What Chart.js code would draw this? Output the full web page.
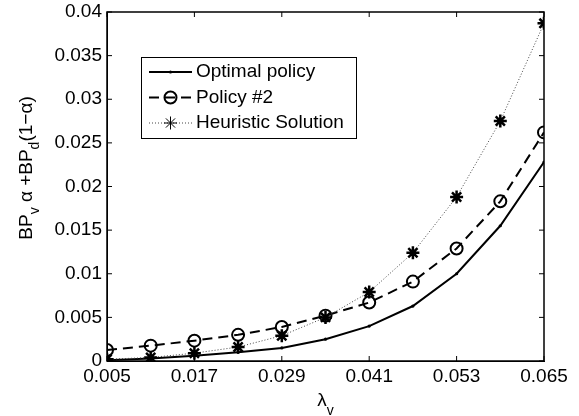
<!DOCTYPE html>
<html>
<head>
<meta charset="utf-8">
<script src="https://cdn.jsdelivr.net/npm/chart.js@4/dist/chart.umd.min.js"></script>
<style>
  html, body { margin: 0; padding: 0; background: #fff; }
  #wrap { width: 579px; height: 416px; }
</style>
</head>
<body>
<div id="wrap"><canvas id="chart"></canvas></div>
<script>
const lambdas = [0.005, 0.011, 0.017, 0.023, 0.029, 0.035, 0.041, 0.047, 0.053, 0.059, 0.065]
const optimal = [0.0001, 0.0003, 0.0006, 0.001, 0.0015, 0.0025, 0.004, 0.0063, 0.0100, 0.0155, 0.0228]
const policy2 = [0.00126, 0.00176, 0.00233, 0.003, 0.0039, 0.0052, 0.0067, 0.0091, 0.0129, 0.0183, 0.0262]
const heuristic = [0.0002, 0.0004, 0.0009, 0.0016, 0.0029, 0.005, 0.0079, 0.0124, 0.0188, 0.0275, 0.0387]
const xTicks = [0.005, 0.017, 0.029, 0.041, 0.053, 0.065]
const yTicks = [0, 0.005, 0.01, 0.015, 0.02, 0.025, 0.03, 0.035, 0.04]
const legendLabels = ["Optimal policy", "Policy #2", "Heuristic Solution"]

const FONT = "Liberation Sans, Arial, Helvetica, sans-serif"
const pts = (ys) => lambdas.map((x, i) => ({ x, y: ys[i] }))
const fmt = (v) => String(parseFloat(v.toFixed(3)))

const series = [
  { label: legendLabels[0], data: pts(optimal), borderColor: '#000', borderWidth: 2,
    pointStyle: 'circle', pointRadius: 1.6, pointBackgroundColor: '#000', pointBorderWidth: 0, order: 3 },
  { label: legendLabels[1], data: pts(policy2), borderColor: '#000', borderWidth: 2, borderDash: [10, 6],
    pointStyle: 'circle', pointRadius: 6, pointBackgroundColor: 'rgba(0,0,0,0)', pointBorderWidth: 2, order: 2 },
  { label: legendLabels[2], data: pts(heuristic), borderColor: '#444', borderWidth: 1, borderDash: [1, 2],
    pointStyle: 'star', pointRadius: 6.5, pointBorderColor: '#000', pointBackgroundColor: '#000', pointBorderWidth: 2.5, order: 1 },
]

// axes box with inward ticks on all four sides
const frame = {
  id: 'frame',
  afterDraw(chart) {
    const { ctx, chartArea: a, scales } = chart
    ctx.save()
    ctx.strokeStyle = '#000'
    ctx.lineWidth = 1.5
    ctx.setLineDash([])
    ctx.strokeRect(a.left, a.top, a.right - a.left, a.bottom - a.top)
    ctx.lineWidth = 1
    ctx.beginPath()
    for (const v of xTicks) {
      const x = scales.x.getPixelForValue(v)
      ctx.moveTo(x, a.bottom); ctx.lineTo(x, a.bottom - 5)
      ctx.moveTo(x, a.top); ctx.lineTo(x, a.top + 5)
    }
    for (const v of yTicks) {
      const y = scales.y.getPixelForValue(v)
      ctx.moveTo(a.left, y); ctx.lineTo(a.left + 5, y)
      ctx.moveTo(a.right, y); ctx.lineTo(a.right - 5, y)
    }
    ctx.stroke()
    ctx.restore()
  }
}

// legend box and axis titles with subscripts
const decor = {
  id: 'decor',
  afterDraw(chart) {
    const { ctx, chartArea: a } = chart
    ctx.save()
    const lx = 141, ly = 57, lw = 215, lh = 81
    ctx.fillStyle = '#fff'
    ctx.fillRect(lx, ly, lw, lh)
    ctx.strokeStyle = '#000'
    ctx.lineWidth = 1
    ctx.strokeRect(lx + 0.5, ly + 0.5, lw, lh)
    ctx.font = '19px ' + FONT
    ctx.textBaseline = 'middle'
    ctx.textAlign = 'left'
    series.forEach((s, i) => {
      const y = ly + 15 + i * 25.5
      ctx.strokeStyle = s.borderColor
      ctx.lineWidth = s.borderWidth
      ctx.setLineDash(s.borderDash || [])
      ctx.beginPath(); ctx.moveTo(149, y); ctx.lineTo(192, y); ctx.stroke()
      ctx.setLineDash([])
      ctx.strokeStyle = s.pointBorderColor || '#000'
      ctx.fillStyle = s.pointBackgroundColor
      Chart.helpers.drawPoint(ctx, { pointStyle: s.pointStyle, radius: s.pointRadius, rotation: 0, borderWidth: s.pointBorderWidth }, 170.5, y)
      ctx.fillStyle = '#000'
      ctx.fillText(s.label, 196, y)
    })

    const parts = [['BP', 0], ['v', 1], [' \u03b1 +BP', 0], ['d', 1], ['(1\u2212\u03b1)', 0]]
    const measure = (p) => { ctx.font = (p[1] ? '14px ' : '19px ') + FONT; return ctx.measureText(p[0]).width }
    const total = parts.reduce((s, p) => s + measure(p), 0)
    ctx.translate(32, 168)
    ctx.rotate(-Math.PI / 2)
    ctx.textBaseline = 'alphabetic'
    let cx = -total / 2
    parts.forEach(p => {
      const w = measure(p)
      ctx.fillText(p[0], cx, p[1] ? 7 : 0)
      cx += w
    })
    ctx.setTransform(1, 0, 0, 1, 0, 0)

    ctx.font = '19px ' + FONT
    const w1 = ctx.measureText('\u03bb').width
    ctx.font = '14px ' + FONT
    const w2 = ctx.measureText('v').width
    const sx = (a.left + a.right) / 2 - (w1 + w2) / 2
    ctx.font = '19px ' + FONT
    ctx.fillText('\u03bb', sx, 406)
    ctx.font = '14px ' + FONT
    ctx.fillText('v', sx + w1, 415)
    ctx.restore()
  }
}

new Chart(document.getElementById('chart'), {
  type: 'line',
  data: { datasets: series.map(s => ({ ...s, fill: false, tension: 0 })) },
  options: {
    responsive: true,
    maintainAspectRatio: false,
    animation: false,
    layout: { padding: { left: 0, right: 35, top: 12, bottom: 0 } },
    plugins: { legend: { display: false }, tooltip: { enabled: false } },
    scales: {
      x: {
        type: 'linear',
        min: 0.005,
        max: 0.065,
        afterBuildTicks: (s) => { s.ticks = xTicks.map(value => ({ value })) },
        afterFit: (s) => { s.height = 55; s.paddingLeft = 0; s.paddingRight = 0 },
        grid: { display: false, drawTicks: false },
        border: { display: true, color: '#000', width: 1 },
        ticks: { color: '#000', font: { family: FONT, size: 19 }, padding: 4, maxRotation: 0, callback: fmt },
      },
      y: {
        min: 0,
        max: 0.04,
        afterBuildTicks: (s) => { s.ticks = yTicks.map(value => ({ value })) },
        afterFit: (s) => { s.width = 107; s.paddingTop = 0; s.paddingBottom = 0 },
        grid: { display: false, drawTicks: false },
        border: { display: true, color: '#000', width: 1 },
        ticks: { color: '#000', font: { family: FONT, size: 19 }, padding: 5, callback: fmt },
      }
    }
  },
  plugins: [frame, decor]
})
</script>
</body>
</html>
